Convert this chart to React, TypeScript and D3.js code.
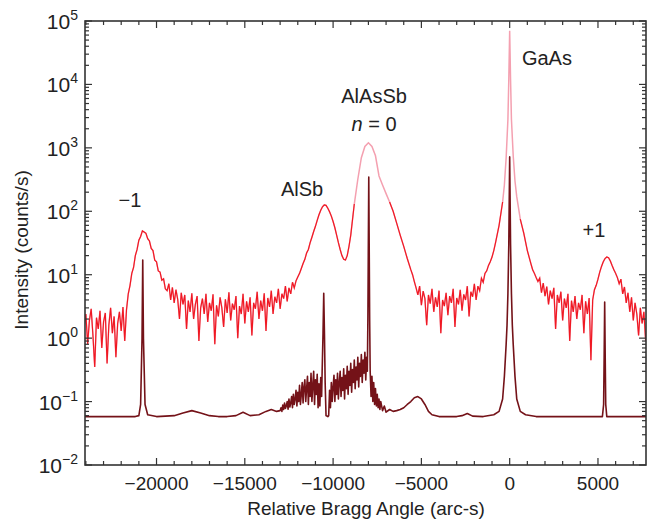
import React, { useEffect, useRef } from "react";
import * as d3 from "d3";

const width = 649;
const height = 532;
const font = "'Liberation Sans', Arial, sans-serif";

// measured curve: [angle (arc-s), intensity (counts/s)]
const measured: [number, number][] = [
  [-24100, 1.5], [-24000, 2.4], [-23900, 0.8], [-23800, 1.9], [-23700, 2.9], [-23600, 1.1],
  [-23500, 0.35], [-23400, 2.1], [-23300, 1.4], [-23200, 2.7], [-23100, 0.7], [-23000, 1.8],
  [-22900, 2.5], [-22800, 0.4], [-22700, 1.6], [-22600, 3.0], [-22500, 1.2], [-22400, 2.2],
  [-22300, 0.5], [-22200, 1.7], [-22100, 2.6], [-22000, 1.3], [-21900, 3.1], [-21800, 0.9],
  [-21700, 2.8], [-21600, 5.0], [-21500, 6.8], [-21400, 10.5], [-21300, 13], [-21200, 20],
  [-21100, 25], [-21000, 35], [-20900, 40], [-20800, 49], [-20700, 47], [-20600, 45],
  [-20500, 37], [-20400, 34], [-20300, 26], [-20200, 24], [-20100, 17], [-20000, 16],
  [-19900, 11.5], [-19800, 11], [-19700, 8.2], [-19600, 8.6], [-19500, 6.0], [-19400, 5.6],
  [-19300, 7.2], [-19200, 4.0], [-19100, 6.3], [-19000, 3.6], [-18900, 5.8], [-18800, 4.1],
  [-18700, 2.0], [-18600, 5.2], [-18500, 3.4], [-18400, 4.8], [-18300, 1.4], [-18200, 3.9],
  [-18100, 2.6], [-18000, 5.1], [-17900, 2.0], [-17800, 3.4], [-17700, 4.6], [-17600, 0.9],
  [-17500, 3.0], [-17400, 4.2], [-17300, 2.4], [-17200, 5.0], [-17100, 1.8], [-17000, 3.6],
  [-16900, 2.7], [-16800, 4.9], [-16700, 0.8], [-16600, 3.3], [-16500, 2.2], [-16400, 4.4],
  [-16300, 3.0], [-16200, 1.5], [-16100, 4.1], [-16000, 2.5], [-15900, 5.3], [-15800, 1.9],
  [-15700, 3.5], [-15600, 2.8], [-15500, 4.6], [-15400, 1.0], [-15300, 3.2], [-15200, 2.4],
  [-15100, 5.0], [-15000, 1.7], [-14900, 3.8], [-14800, 2.6], [-14700, 4.4], [-14600, 1.1],
  [-14500, 3.6], [-14400, 2.9], [-14300, 5.4], [-14200, 2.0], [-14100, 3.9], [-14000, 2.7],
  [-13900, 5.1], [-13800, 1.3], [-13700, 4.3], [-13600, 3.1], [-13500, 5.6], [-13400, 2.4],
  [-13300, 4.5], [-13200, 3.6], [-13100, 6.0], [-13000, 2.9], [-12900, 5.0], [-12800, 4.2],
  [-12700, 6.6], [-12600, 3.8], [-12500, 6.2], [-12400, 5.0], [-12300, 7.6], [-12200, 6.2],
  [-12100, 8.0], [-12000, 9.2], [-11900, 10.5], [-11800, 12.5], [-11700, 15], [-11600, 17.5],
  [-11500, 22], [-11400, 25], [-11300, 32], [-11200, 39], [-11100, 48], [-11000, 58],
  [-10900, 72], [-10800, 88], [-10700, 104], [-10600, 118], [-10500, 126], [-10400, 124],
  [-10300, 112], [-10200, 98], [-10100, 84], [-10000, 69], [-9900, 55], [-9800, 42],
  [-9700, 32], [-9600, 25], [-9500, 20], [-9400, 17.5], [-9300, 17], [-9200, 20],
  [-9100, 28], [-9000, 42], [-8800, 130], [-8600, 320], [-8400, 700], [-8200, 1050],
  [-8000, 1200], [-7800, 1050], [-7600, 750], [-7400, 360], [-7200, 260], [-7000, 190],
  [-6800, 140], [-6600, 100], [-6400, 65], [-6200, 42], [-6000, 28], [-5800, 18],
  [-5600, 12], [-5500, 10], [-5400, 7.8], [-5300, 6.2], [-5200, 4.8], [-5100, 6.6],
  [-5000, 3.3], [-4900, 5.5], [-4800, 4.2], [-4700, 1.6], [-4600, 4.8], [-4500, 3.5],
  [-4400, 6.0], [-4300, 2.6], [-4200, 4.4], [-4100, 3.1], [-4000, 5.6], [-3900, 1.2],
  [-3800, 4.0], [-3700, 3.2], [-3600, 5.2], [-3500, 2.3], [-3400, 4.6], [-3300, 3.6],
  [-3200, 6.0], [-3100, 1.5], [-3000, 4.3], [-2900, 3.4], [-2800, 5.8], [-2700, 2.7],
  [-2600, 4.9], [-2500, 4.0], [-2400, 6.6], [-2300, 2.2], [-2200, 5.4], [-2100, 4.5],
  [-2000, 7.2], [-1900, 4.0], [-1800, 6.6], [-1700, 5.6], [-1600, 8.8], [-1500, 7.6],
  [-1400, 10.5], [-1300, 11.5], [-1200, 14], [-1100, 16], [-1000, 19], [-900, 24],
  [-800, 32], [-600, 60], [-400, 140], [-300, 260], [-200, 700], [-100, 2800],
  [-50, 12000], [0, 70000], [50, 12000], [100, 2800], [200, 750], [300, 300],
  [400, 170], [600, 75], [800, 45], [1000, 24], [1100, 19], [1200, 15],
  [1300, 12], [1400, 10.5], [1500, 9.0], [1600, 7.8], [1700, 8.8], [1800, 5.2],
  [1900, 7.4], [2000, 4.6], [2100, 6.5], [2200, 3.4], [2300, 5.6], [2400, 4.2],
  [2500, 6.2], [2600, 1.4], [2700, 4.8], [2800, 3.6], [2900, 5.4], [3000, 1.9],
  [3100, 4.2], [3200, 3.0], [3300, 5.0], [3400, 0.9], [3500, 3.9], [3600, 2.6],
  [3700, 4.6], [3800, 2.0], [3900, 3.6], [4000, 2.8], [4100, 4.8], [4200, 1.2],
  [4300, 3.8], [4400, 2.4], [4500, 4.3], [4600, 0.45], [4700, 4.0], [4800, 5.8],
  [4900, 6.8], [5000, 8.5], [5100, 11], [5200, 13.5], [5300, 16], [5400, 18],
  [5500, 19], [5600, 18.5], [5700, 16.5], [5800, 14], [5900, 12], [6000, 10.5],
  [6100, 9.0], [6200, 7.2], [6300, 8.5], [6400, 5.0], [6500, 6.4], [6600, 3.6],
  [6700, 5.2], [6800, 2.6], [6900, 4.4], [7000, 1.9], [7100, 3.6], [7200, 2.4],
  [7300, 1.1], [7400, 3.0], [7500, 1.7], [7600, 2.6], [7700, 0.9], [7800, 2.0],
];

// simulated curve
const simulated: [number, number][] = [
  [-24200, 0.058], [-21200, 0.058], [-21000, 0.06], [-20900, 0.09], [-20820, 1.0], [-20780, 17],
  [-20740, 1.0], [-20650, 0.09], [-20500, 0.062], [-20000, 0.058], [-19000, 0.06], [-18500, 0.066],
  [-18000, 0.072], [-17500, 0.066], [-17000, 0.06], [-16500, 0.058], [-16000, 0.058], [-15500, 0.06],
  [-15100, 0.068], [-14700, 0.06], [-14200, 0.062], [-13800, 0.07], [-13500, 0.075], [-13200, 0.07],
  [-13000, 0.072], [-12950, 0.08], [-12900, 0.07], [-12850, 0.088], [-12800, 0.075], [-12750, 0.095],
  [-12700, 0.078], [-12650, 0.085], [-12600, 0.1], [-12550, 0.076], [-12500, 0.11], [-12450, 0.082],
  [-12400, 0.095], [-12350, 0.12], [-12300, 0.08], [-12250, 0.13], [-12200, 0.09], [-12150, 0.11],
  [-12100, 0.15], [-12050, 0.085], [-12000, 0.14], [-11950, 0.1], [-11900, 0.18], [-11850, 0.09],
  [-11800, 0.13], [-11750, 0.2], [-11700, 0.095], [-11650, 0.17], [-11600, 0.22], [-11550, 0.1],
  [-11500, 0.16], [-11450, 0.25], [-11400, 0.09], [-11350, 0.2], [-11300, 0.12], [-11250, 0.28],
  [-11200, 0.1], [-11150, 0.18], [-11100, 0.3], [-11050, 0.09], [-11000, 0.22], [-10950, 0.13],
  [-10900, 0.27], [-10850, 0.08], [-10800, 0.19], [-10750, 0.085], [-10700, 0.24], [-10650, 0.12],
  [-10620, 0.3], [-10570, 1.2], [-10530, 5.1], [-10490, 1.2], [-10450, 0.2], [-10400, 0.06],
  [-10300, 0.058], [-10250, 0.06], [-10200, 0.15], [-10150, 0.08], [-10100, 0.2], [-10050, 0.1],
  [-10000, 0.17], [-9950, 0.26], [-9900, 0.1], [-9850, 0.22], [-9800, 0.13], [-9750, 0.28],
  [-9700, 0.11], [-9650, 0.2], [-9600, 0.3], [-9550, 0.12], [-9500, 0.24], [-9450, 0.15],
  [-9400, 0.33], [-9350, 0.11], [-9300, 0.26], [-9250, 0.16], [-9200, 0.36], [-9150, 0.13],
  [-9100, 0.3], [-9050, 0.18], [-9000, 0.4], [-8950, 0.14], [-8900, 0.32], [-8850, 0.2],
  [-8800, 0.45], [-8750, 0.16], [-8700, 0.35], [-8650, 0.22], [-8600, 0.5], [-8550, 0.17],
  [-8500, 0.4], [-8450, 0.25], [-8400, 0.55], [-8350, 0.2], [-8300, 0.45], [-8250, 0.28],
  [-8200, 0.6], [-8150, 0.22], [-8100, 0.5], [-8060, 0.3], [-8030, 2], [-7980, 345],
  [-7930, 2], [-7900, 0.3], [-7850, 0.12], [-7800, 0.25], [-7750, 0.1], [-7700, 0.2],
  [-7650, 0.09], [-7600, 0.16], [-7550, 0.085], [-7500, 0.13], [-7450, 0.08], [-7400, 0.11],
  [-7350, 0.075], [-7300, 0.1], [-7200, 0.072], [-7100, 0.085], [-7000, 0.068], [-6800, 0.075],
  [-6600, 0.07], [-6400, 0.072], [-6200, 0.075], [-6000, 0.08], [-5800, 0.09], [-5600, 0.1],
  [-5400, 0.115], [-5200, 0.12], [-5000, 0.11], [-4800, 0.09], [-4600, 0.07], [-4400, 0.062],
  [-4000, 0.058], [-3000, 0.058], [-2700, 0.06], [-2400, 0.065], [-2100, 0.059], [-1500, 0.058],
  [-900, 0.062], [-600, 0.07], [-400, 0.11], [-300, 0.25], [-200, 0.8], [-150, 1.6],
  [-100, 5], [-50, 30], [0, 720], [50, 30], [100, 5], [150, 1.6],
  [200, 0.8], [300, 0.25], [400, 0.11], [600, 0.07], [900, 0.062], [1500, 0.058],
  [5250, 0.058], [5320, 0.09], [5350, 0.5], [5380, 3.7], [5410, 0.5], [5440, 0.09],
  [5500, 0.058], [8000, 0.058],
];

const xMajor = [-20000, -15000, -10000, -5000, 0, 5000];
const xMinor = d3.range(-24000, 8000, 1000);
const yExponents = [-2, -1, 0, 1, 2, 3, 4, 5];

// peak labels: [text, angle, intensity at baseline]
const peakLabels: [string, number, number][] = [
  ["−1", -21500, 117],
  ["AlSb", -11760, 174],
  ["AlAsSb", -7680, 5100],
  ["GaAs", 2110, 20200],
  ["+1", 4775, 39],
];

function App() {
  const ref = useRef<SVGSVGElement>(null);

  useEffect(() => {
    document.body.style.margin = "0";
    const svg = d3.select(ref.current);
    svg.selectAll("*").remove();

    const x = d3.scaleLinear().domain([-24050, 7720]).range([85, 646]);
    const y = d3.scaleLog().domain([1e-2, 1e5]).range([465, 21]);
    const [x0, x1] = x.range();
    const [y0, y1] = y.range();

    svg.append("defs").append("clipPath").attr("id", "plot-clip")
      .append("rect").attr("x", x0).attr("y", y1).attr("width", x1 - x0).attr("height", y0 - y1);

    const plot = svg.append("g").attr("clip-path", "url(#plot-clip)");

    const line = d3.line<[number, number]>()
      .x(d => x(d[0]))
      .y(d => y(d[1]));

    // simulated (dark)
    plot.append("path")
      .attr("d", line(simulated))
      .attr("fill", "none")
      .attr("stroke", "#741218")
      .attr("stroke-width", 1.6)
      .attr("stroke-linejoin", "round");

    // measured: pink everywhere, red over the low-count noisy parts
    plot.append("path")
      .attr("d", line(measured))
      .attr("fill", "none")
      .attr("stroke", "#f4a0b0")
      .attr("stroke-width", 1.5);

    plot.append("path")
      .attr("d", line.defined(d => d[1] < 150)(measured))
      .attr("fill", "none")
      .attr("stroke", "#f01822")
      .attr("stroke-width", 1.15);

    // frame
    svg.append("rect")
      .attr("x", x0).attr("y", y1).attr("width", x1 - x0).attr("height", y0 - y1)
      .attr("fill", "none").attr("stroke", "#333").attr("stroke-width", 1.6);

    const ticks = svg.append("g").attr("stroke", "#333").attr("stroke-width", 1.2);

    // x ticks, bottom and top, inward
    xMinor.forEach(v => {
      const len = xMajor.includes(v) ? 7 : 4;
      ticks.append("line").attr("x1", x(v)).attr("x2", x(v)).attr("y1", y0).attr("y2", y0 - len);
      ticks.append("line").attr("x1", x(v)).attr("x2", x(v)).attr("y1", y1).attr("y2", y1 + len);
    });

    // y ticks, left and right
    yExponents.forEach(e => {
      const base = Math.pow(10, e);
      const yy = y(base);
      ticks.append("line").attr("x1", x0).attr("x2", x0 + 7).attr("y1", yy).attr("y2", yy);
      ticks.append("line").attr("x1", x1).attr("x2", x1 - 7).attr("y1", yy).attr("y2", yy);
      if (e < 5) {
        d3.range(2, 10).forEach(m => {
          const ym = y(base * m);
          ticks.append("line").attr("x1", x0).attr("x2", x0 + 4).attr("y1", ym).attr("y2", ym);
          ticks.append("line").attr("x1", x1).attr("x2", x1 - 4).attr("y1", ym).attr("y2", ym);
        });
      }
    });

    // x tick labels
    svg.append("g")
      .selectAll("text")
      .data(xMajor)
      .enter()
      .append("text")
      .attr("x", d => x(d))
      .attr("y", 490)
      .attr("text-anchor", "middle")
      .style("font-family", font)
      .style("font-size", "19px")
      .attr("fill", "#222")
      .text(d => (d < 0 ? "−" + Math.abs(d) : String(d)));

    // y tick labels
    yExponents.forEach(e => {
      const t = svg.append("text")
        .attr("x", 78)
        .attr("y", y(Math.pow(10, e)) + 8)
        .attr("text-anchor", "end")
        .style("font-family", font)
        .style("font-size", "21px")
        .attr("fill", "#222");
      t.append("tspan").text("10");
      t.append("tspan")
        .attr("dy", -9)
        .style("font-size", "14px")
        .text(e < 0 ? "−" + Math.abs(e) : String(e));
    });

    // axis titles
    svg.append("text")
      .attr("x", 366)
      .attr("y", 515)
      .attr("text-anchor", "middle")
      .style("font-family", font)
      .style("font-size", "19px")
      .attr("fill", "#222")
      .text("Relative Bragg Angle (arc-s)");

    svg.append("text")
      .attr("transform", "translate(28,250) rotate(-90)")
      .attr("text-anchor", "middle")
      .style("font-family", font)
      .style("font-size", "19px")
      .attr("fill", "#222")
      .text("Intensity (counts/s)");

    // peak labels
    peakLabels.forEach(([label, a, c]) => {
      svg.append("text")
        .attr("x", x(a))
        .attr("y", y(c))
        .attr("text-anchor", "middle")
        .style("font-family", font)
        .style("font-size", "20px")
        .attr("fill", "#222")
        .text(label);
    });

    const n0 = svg.append("text")
      .attr("x", x(-7680))
      .attr("y", y(1845))
      .attr("text-anchor", "middle")
      .style("font-family", font)
      .style("font-size", "20px")
      .attr("fill", "#222");
    n0.append("tspan").style("font-style", "italic").text("n");
    n0.append("tspan").text(" = 0");
  }, []);

  return <svg ref={ref} width={width} height={height} style={{ display: "block", background: "#fff" }} />;
}

export default App;
